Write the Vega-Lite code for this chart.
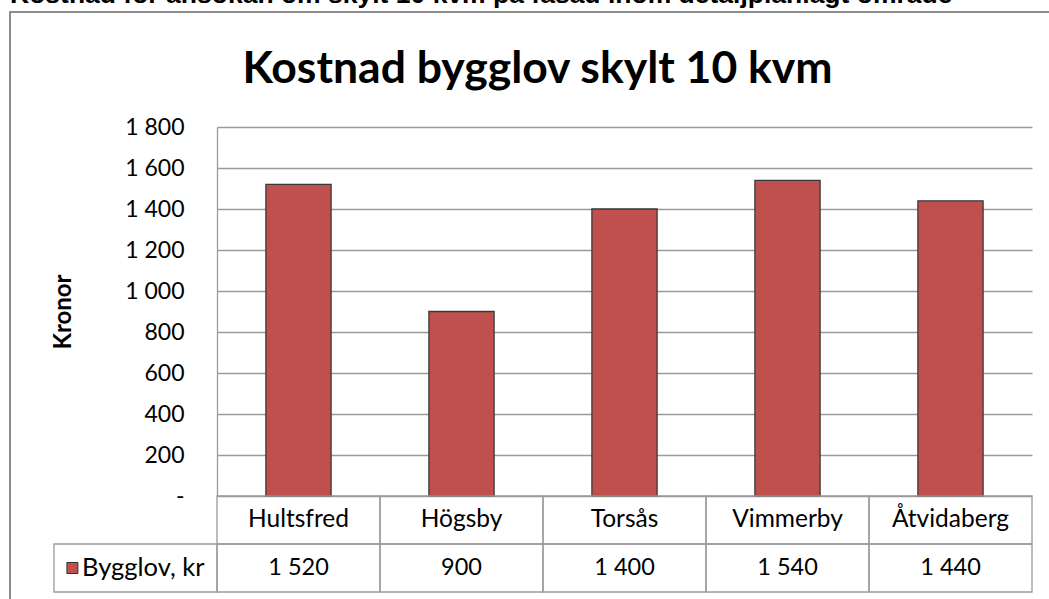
{
  "$schema": "https://vega.github.io/schema/vega-lite/v6.json",
  "width": 1041,
  "height": 589,
  "autosize": {"type": "none"},
  "padding": {"left": 10, "top": 12, "right": -2, "bottom": -2},
  "background": "white",
  "title": {
    "text": "Kostnad för ansökan om skylt 10 kvm på fasad inom detaljplanlagt område",
    "anchor": "start",
    "frame": "group",
    "orient": "top",
    "offset": 0,
    "dy": 17,
    "baseline": "alphabetic",
    "font": "Liberation Sans",
    "fontSize": 26.5,
    "fontWeight": "bold",
    "color": "#000000"
  },
  "config": {
    "view": {"stroke": "#8c8c8c", "strokeWidth": 2},
    "locale": {"number": {"decimal": ",", "thousands": " ", "grouping": [3], "currency": ["", " kr"]}}
  },
  "datasets": {
    "bygglov": [
      {"Kommun": "Hultsfred", "Kronor": 1520},
      {"Kommun": "Högsby", "Kronor": 900},
      {"Kommun": "Torsås", "Kronor": 1400},
      {"Kommun": "Vimmerby", "Kronor": 1540},
      {"Kommun": "Åtvidaberg", "Kronor": 1440}
    ],
    "serie": [
      {"Kommun": "Bygglov, kr"}
    ]
  },
  "layer": [
    {
      "data": {"name": "bygglov"},
      "mark": {"type": "bar", "fill": "#C0504D", "stroke": "#3a3a3a", "strokeWidth": 1.3},
      "encoding": {
        "x": {
          "field": "Kommun",
          "type": "nominal",
          "sort": null,
          "scale": {"range": [207, 1022], "paddingInner": 0.6, "paddingOuter": 0.3},
          "axis": {
            "orient": "top",
            "labels": false,
            "ticks": false,
            "domain": false,
            "grid": false,
            "title": "Kostnad bygglov skylt 10 kvm",
            "titleFont": "Lato",
            "titleFontSize": 44.5,
            "titleFontWeight": "bold",
            "titleColor": "#000000",
            "titleX": 527,
            "titleY": 70,
            "titleBaseline": "alphabetic",
            "titleAlign": "center"
          }
        },
        "y": {
          "field": "Kronor",
          "type": "quantitative",
          "scale": {"domain": [0, 1800], "range": [484, 115], "nice": false},
          "axis": {
            "values": [0, 200, 400, 600, 800, 1000, 1200, 1400, 1600, 1800],
            "labelExpr": "datum.value === 0 ? '-   ' : format(datum.value, ',')",
            "offset": -207,
            "grid": true,
            "gridColor": "#9a9a9a",
            "gridWidth": 1.3,
            "domainColor": "#9a9a9a",
            "domainWidth": 1.3,
            "ticks": false,
            "labelPadding": 33,
            "labelFont": "Lato",
            "labelFontSize": 23,
            "labelColor": "#000000",
            "title": "Kronor",
            "titleFont": "Lato",
            "titleFontSize": 24,
            "titleFontWeight": "bold",
            "titleColor": "#000000",
            "titleX": -154,
            "titleBaseline": "middle",
            "titleAlign": "center",
            "titleAngle": -90
          }
        }
      }
    },
    {
      "layer": [
        {
          "data": {"name": "bygglov"},
          "mark": {"type": "rect", "filled": false, "stroke": "#9a9a9a", "strokeWidth": 1.3},
          "encoding": {
            "x": {"field": "Kommun", "type": "nominal", "scale": {"domain": ["Bygglov, kr", "Hultsfred", "Högsby", "Torsås", "Vimmerby", "Åtvidaberg"], "range": [44, 1022], "paddingInner": 0, "paddingOuter": 0}, "axis": null},
            "y": {"datum": "namn", "type": "nominal", "scale": {"domain": ["namn", "värde"], "range": [484, 580], "paddingInner": 0, "paddingOuter": 0}, "axis": null}
          }
        },
        {
          "data": {"name": "bygglov"},
          "mark": {"type": "rect", "filled": false, "stroke": "#9a9a9a", "strokeWidth": 1.3},
          "encoding": {
            "x": {"field": "Kommun", "type": "nominal", "scale": {"domain": ["Bygglov, kr", "Hultsfred", "Högsby", "Torsås", "Vimmerby", "Åtvidaberg"], "range": [44, 1022], "paddingInner": 0, "paddingOuter": 0}, "axis": null},
            "y": {"datum": "värde", "type": "nominal", "scale": {"domain": ["namn", "värde"], "range": [484, 580], "paddingInner": 0, "paddingOuter": 0}, "axis": null}
          }
        },
        {
          "data": {"name": "serie"},
          "mark": {"type": "rect", "filled": false, "stroke": "#9a9a9a", "strokeWidth": 1.3},
          "encoding": {
            "x": {"field": "Kommun", "type": "nominal", "scale": {"domain": ["Bygglov, kr", "Hultsfred", "Högsby", "Torsås", "Vimmerby", "Åtvidaberg"], "range": [44, 1022], "paddingInner": 0, "paddingOuter": 0}, "axis": null},
            "y": {"datum": "värde", "type": "nominal", "scale": {"domain": ["namn", "värde"], "range": [484, 580], "paddingInner": 0, "paddingOuter": 0}, "axis": null}
          }
        },
        {
          "data": {"name": "bygglov"},
          "mark": {"type": "text", "font": "Lato", "fontSize": 24.5, "color": "#000000", "baseline": "middle"},
          "encoding": {
            "x": {"field": "Kommun", "type": "nominal", "scale": {"domain": ["Bygglov, kr", "Hultsfred", "Högsby", "Torsås", "Vimmerby", "Åtvidaberg"], "range": [44, 1022], "paddingInner": 0, "paddingOuter": 0}, "axis": null},
            "y": {"datum": "namn", "type": "nominal", "scale": {"domain": ["namn", "värde"], "range": [484, 580], "paddingInner": 0, "paddingOuter": 0}, "axis": null},
            "text": {"field": "Kommun", "type": "nominal"}
          }
        },
        {
          "data": {"name": "bygglov"},
          "mark": {"type": "text", "font": "Lato", "fontSize": 23.5, "color": "#000000", "baseline": "middle"},
          "encoding": {
            "x": {"field": "Kommun", "type": "nominal", "scale": {"domain": ["Bygglov, kr", "Hultsfred", "Högsby", "Torsås", "Vimmerby", "Åtvidaberg"], "range": [44, 1022], "paddingInner": 0, "paddingOuter": 0}, "axis": null},
            "y": {"datum": "värde", "type": "nominal", "scale": {"domain": ["namn", "värde"], "range": [484, 580], "paddingInner": 0, "paddingOuter": 0}, "axis": null},
            "text": {"field": "Kronor", "type": "quantitative", "format": ","}
          }
        },
        {
          "data": {"name": "serie"},
          "mark": {"type": "point", "shape": "square", "filled": true, "fill": "#C0504D", "stroke": "#333333", "strokeWidth": 1, "size": 121, "opacity": 1},
          "encoding": {
            "x": {"field": "Kommun", "type": "nominal", "bandPosition": 0.113, "scale": {"domain": ["Bygglov, kr", "Hultsfred", "Högsby", "Torsås", "Vimmerby", "Åtvidaberg"], "range": [44, 1022], "paddingInner": 0, "paddingOuter": 0}, "axis": null},
            "y": {"datum": "värde", "type": "nominal", "scale": {"domain": ["namn", "värde"], "range": [484, 580], "paddingInner": 0, "paddingOuter": 0}, "axis": null}
          }
        },
        {
          "data": {"name": "serie"},
          "mark": {"type": "text", "font": "Lato", "fontSize": 25.5, "color": "#000000", "align": "left", "baseline": "middle"},
          "encoding": {
            "x": {"field": "Kommun", "type": "nominal", "bandPosition": 0.172, "scale": {"domain": ["Bygglov, kr", "Hultsfred", "Högsby", "Torsås", "Vimmerby", "Åtvidaberg"], "range": [44, 1022], "paddingInner": 0, "paddingOuter": 0}, "axis": null},
            "y": {"datum": "värde", "type": "nominal", "scale": {"domain": ["namn", "värde"], "range": [484, 580], "paddingInner": 0, "paddingOuter": 0}, "axis": null},
            "text": {"field": "Kommun", "type": "nominal"}
          }
        }
      ]
    }
  ],
  "resolve": {
    "scale": {"x": "independent", "y": "independent"},
    "axis": {"x": "independent", "y": "independent"}
  }
}
